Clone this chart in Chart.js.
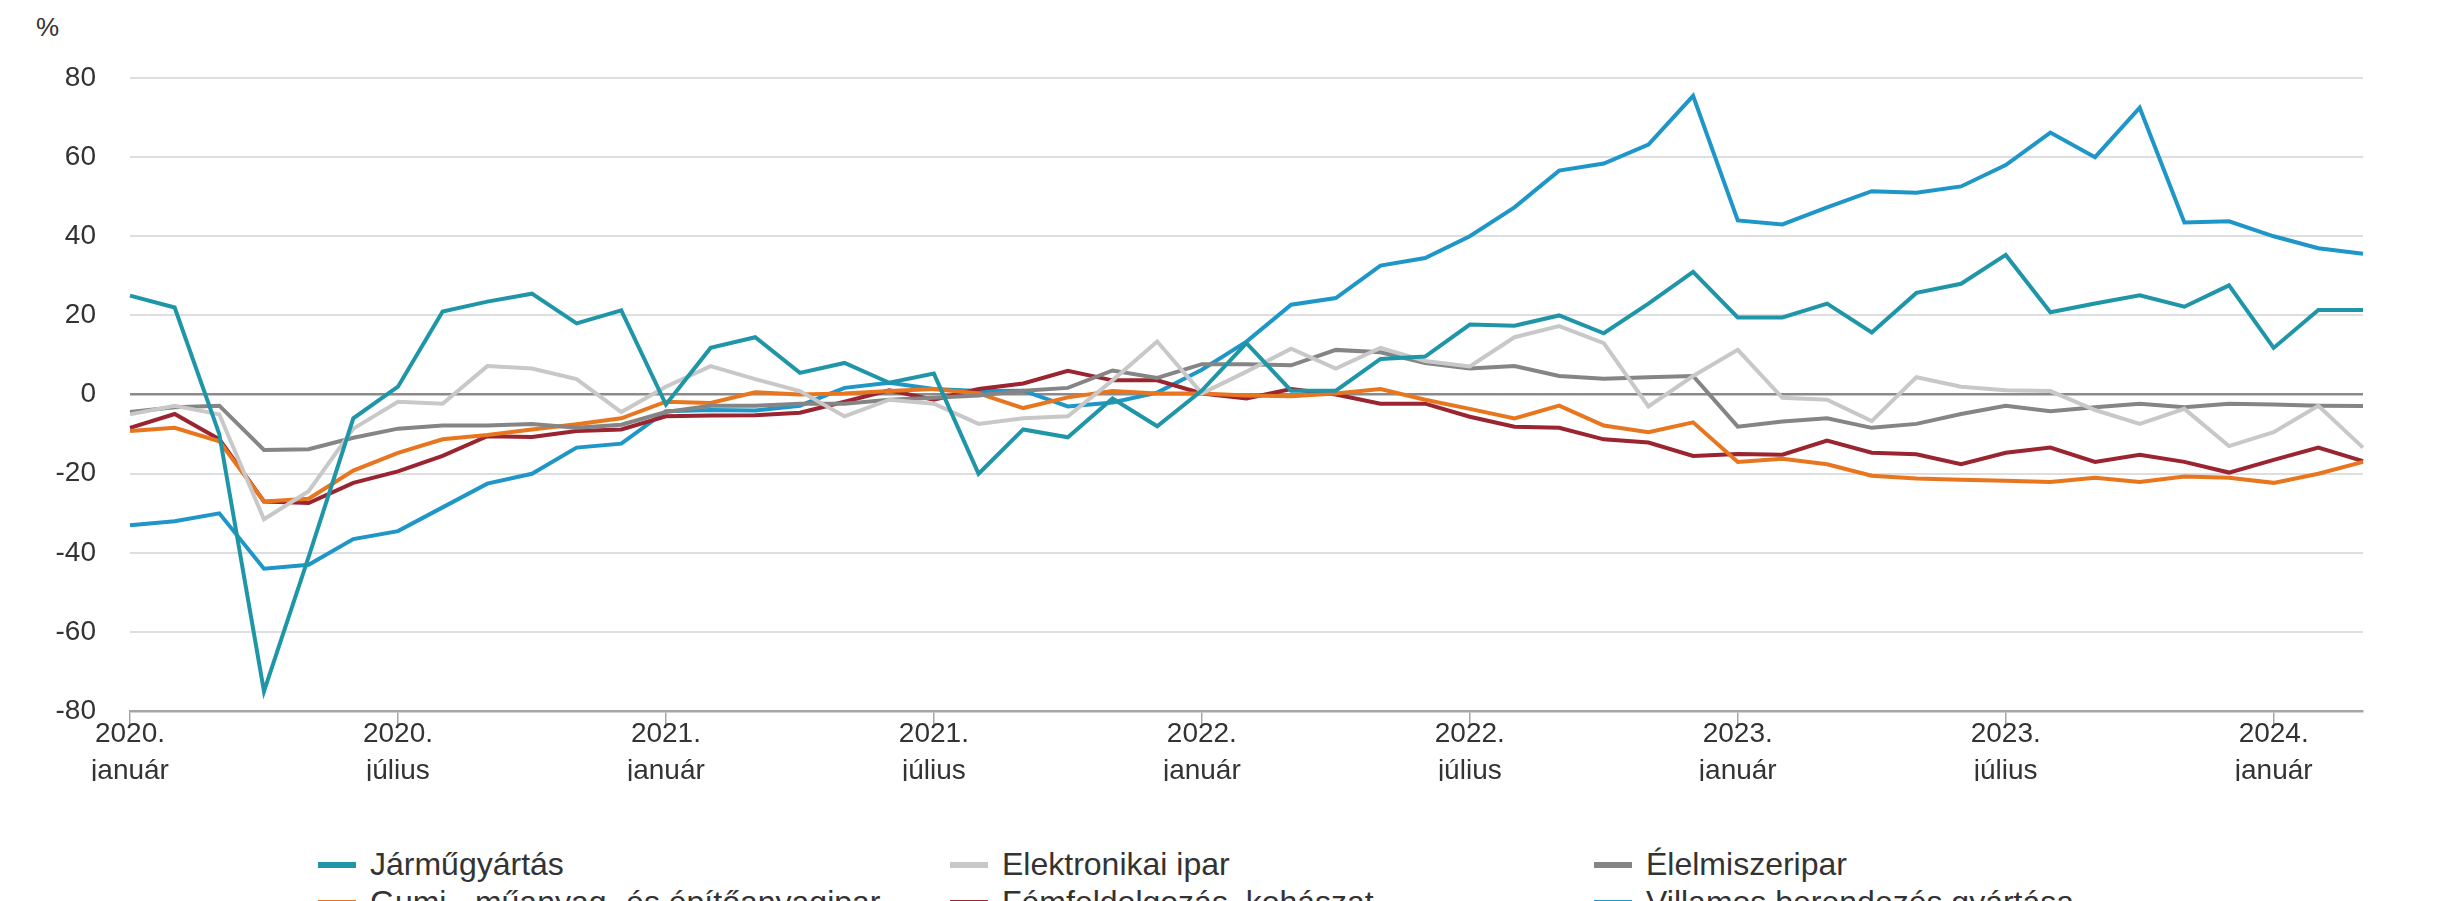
<!DOCTYPE html>
<html>
<head>
<meta charset="utf-8">
<script src="https://cdn.jsdelivr.net/npm/chart.js@4.4.1/dist/chart.umd.min.js"></script>
<style>
  html, body { margin: 0; padding: 0; background: #fff; overflow: hidden; }
  body { width: 2457px; height: 901px; position: relative; font-family: "Liberation Sans", Arial, sans-serif; color: #333; }
  #wrap { position: absolute; left: 0; top: 0; width: 2457px; height: 781px; }
  #unit { position: absolute; left: 36px; top: 12px; font-size: 26px; color: #333; }
  #legend { position: absolute; left: 0; top: 846px; width: 2457px; }
  .item { position: absolute; font-size: 32px; white-space: nowrap; }
  .item span.mark { display: inline-block; width: 38px; height: 6px; margin-right: 14px; vertical-align: middle; position: relative; top: -2px; }
</style>
</head>
<body>
<div id="unit">%</div>
<div id="wrap"><canvas id="chart"></canvas></div>
<div id="legend"></div>
<script>
// havi adatok 2020. január - 2024. március
var months = [];
for (var y = 2020; y <= 2024; y++) {
    for (var m = 1; m <= 12; m++) {
        if (y === 2024 && m > 3) break;
        months.push(y + '-' + (m < 10 ? '0' + m : m));
    }
}

var monthNames = { '01': 'január', '07': 'július' };

var jarmugyartas = [25, 22, -10, -75, -41, -6, 2, 21, 23.5, 25.5, 18, 21.3,
    -2.5, 11.8, 14.5, 5.5, 8, 3, 5.3, -20, -8.8, -10.8, -1, -8,
    1, 13, 1, 1, 9, 9.6, 17.7, 17.4, 20, 15.5, 23, 31,
    19.5, 19.5, 23, 15.7, 25.7, 28, 35.3, 20.8, 23, 25.1, 22.2, 27.6,
    11.8, 21.4, 21.4];

var elektronikai = [-5, -2.8, -5, -31.5, -24.4, -8.6, -1.8, -2.3, 7.2, 6.6, 3.9, -4.4,
    2, 7.2, 3.9, 0.9, -5.5, -1.3, -2.3, -7.4, -6, -5.5, 3.6, 13.4,
    0.3, 5.8, 11.6, 6.6, 11.8, 8.5, 7.1, 14.5, 17.3, 13, -3, 4.7,
    11.3, -0.8, -1.3, -6.7, 4.4, 2, 1.1, 0.9, -3.9, -7.4, -3.6, -13,
    -9.5, -2.8, -13.4];

var elelmiszer = [-4.4, -3.2, -2.8, -14, -13.8, -10.9, -8.6, -7.8, -7.8, -7.4, -8.4, -7.6,
    -4.4, -2.8, -2.8, -2.3, -2.3, -1.3, -0.8, -0.2, 1, 1.7, 6.1, 4.2,
    7.7, 7.7, 7.4, 11.3, 10.7, 8, 6.6, 7.2, 4.7, 4, 4.4, 4.7,
    -8.1, -6.8, -6, -8.4, -7.4, -4.9, -2.8, -4.2, -3.2, -2.3, -3.2, -2.3,
    -2.5, -2.8, -2.9];

var gumi = [-9.2, -8.4, -11.8, -27, -26.3, -19.2, -14.7, -11.3, -10.2, -8.8, -7.5, -6,
    -1.8, -2.1, 0.6, 0, 0.3, 0.9, 1.4, 0.3, -3.4, -0.7, 0.9, 0.3,
    0.3, -0.2, -0.4, 0.3, 1.4, -1.3, -3.6, -6, -2.8, -7.8, -9.5, -7,
    -17, -16.2, -17.6, -20.5, -21.2, -21.5, -21.8, -22.1, -21, -22.1, -20.7, -21,
    -22.3, -20, -17];

var femfeldolgozas = [-8.4, -4.9, -11.3, -27, -27.4, -22.3, -19.4, -15.5, -10.5, -10.7, -9.2, -8.8,
    -5.5, -5.3, -5.2, -4.6, -1.8, 1.1, -1.3, 1.4, 2.8, 6, 3.6, 3.6,
    0.3, -1, 1.4, 0, -2.3, -2.3, -5.6, -8.1, -8.4, -11.3, -12.1, -15.5,
    -15, -15.2, -11.6, -14.7, -15.1, -17.6, -14.7, -13.4, -17, -15.2, -17, -19.7,
    -16.5, -13.4, -16.8];

var villamos = [-33, -32, -30, -44, -43, -36.5, -34.5, -28.5, -22.5, -20, -13.4, -12.4,
    -4.2, -3.9, -4, -2.8, 1.7, 3, 1.4, 0.9, 1, -3, -2, 0.5,
    6.3, 13.4, 22.7, 24.4, 32.6, 34.5, 40, 47.3, 56.6, 58.4, 63.2, 75.5,
    44, 43, 47.3, 51.4, 51, 52.6, 58, 66.2, 60, 72.5, 43.5, 43.8,
    40, 37, 35.6];

var series = [
    { label: 'Járműgyártás', data: jarmugyartas, color: '#1f96a8' },
    { label: 'Elektronikai ipar', data: elektronikai, color: '#c8c8c8' },
    { label: 'Élelmiszeripar', data: elelmiszer, color: '#858585' },
    { label: 'Gumi-, műanyag- és építőanyagipar', data: gumi, color: '#e8761f' },
    { label: 'Fémfeldolgozás, kohászat', data: femfeldolgozas, color: '#9a2430' },
    { label: 'Villamos berendezés gyártása', data: villamos, color: '#1e96c8' }
];

var ctx = document.getElementById('chart').getContext('2d');
var chart = new Chart(ctx, {
    type: 'line',
    data: {
        labels: months,
        datasets: series.map(function (s) {
            return {
                label: s.label,
                data: s.data,
                borderColor: s.color,
                backgroundColor: s.color,
                borderWidth: 4,
                pointRadius: 0,
                tension: 0
            };
        })
    },
    options: {
        responsive: true,
        maintainAspectRatio: false,
        animation: false,
        layout: { padding: { top: 78, right: 94, left: 0, bottom: 0 } },
        plugins: {
            legend: { display: false },
            tooltip: { enabled: false }
        },
        scales: {
            x: {
                offset: false,
                border: { display: true, color: '#a6a6a6', width: 2.5 },
                grid: {
                    drawOnChartArea: false,
                    drawTicks: true,
                    tickLength: 13,
                    color: '#a6a6a6',
                    lineWidth: 1.5
                },
                ticks: {
                    autoSkip: false,
                    maxRotation: 0,
                    padding: -8,
                    color: '#333',
                    font: { family: 'Liberation Sans', size: 28, lineHeight: 1.3 },
                    callback: function (value, index) {
                        var parts = months[index].split('-');
                        if (parts[1] !== '01' && parts[1] !== '07') return null;
                        return [parts[0] + '.', monthNames[parts[1]]];
                    }
                }
            },
            y: {
                min: -80,
                max: 80,
                afterFit: function (scale) { scale.width = 130; },
                border: { display: false },
                grid: {
                    drawTicks: false,
                    color: function (c) { return c.tick.value === 0 ? '#8a8a8a' : '#dedede'; },
                    lineWidth: function (c) { return c.tick.value === 0 ? 2.5 : 2; }
                },
                ticks: {
                    stepSize: 20,
                    padding: 34,
                    color: '#333',
                    font: { family: 'Liberation Sans', size: 28 }
                }
            }
        }
    }
});

// jelmagyarázat három oszlopban
var legend = document.getElementById('legend');
var cols = [318, 950, 1594];
chart.data.datasets.forEach(function (ds, i) {
    var div = document.createElement('div');
    div.className = 'item';
    div.style.left = cols[i % 3] + 'px';
    div.style.top = (Math.floor(i / 3) * 38) + 'px';
    div.innerHTML = '<span class="mark" style="background:' + ds.borderColor + '"></span>' + ds.label;
    legend.appendChild(div);
});
</script>
</body>
</html>
